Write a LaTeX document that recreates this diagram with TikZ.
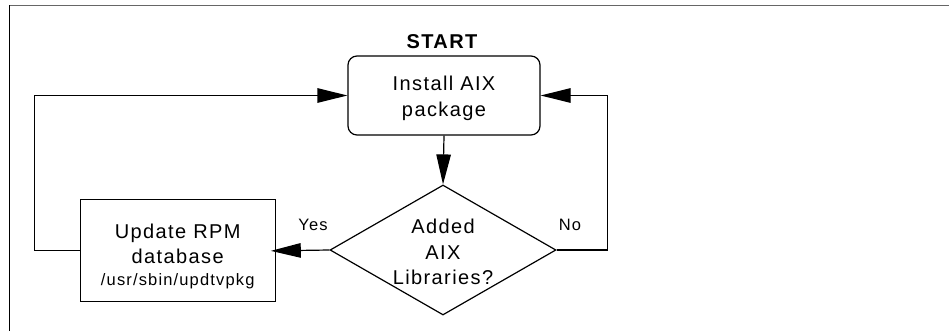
\documentclass[tikz,border=0pt]{standalone}
\usepackage{fontspec}
\setmainfont{Liberation Sans}[LetterSpace=7]
\usetikzlibrary{arrows.meta,shapes.geometric}
\tikzset{
  box/.style={draw=black,line width=1.2pt,inner sep=0pt},
  big/.style={font=\fontsize{20}{25.5}\selectfont,align=center,inner sep=0pt},
  small/.style={font=\fontsize{16.5}{20}\selectfont,inner sep=0pt},
  arr/.style={line width=1.2pt,-{Triangle[length=30pt,width=14.5pt]}},
}
\begin{document}
\begin{tikzpicture}[x=1pt,y=-1pt]
\useasboundingbox (0,0) rectangle (949,331);
% frame
\draw[line width=1.6pt,draw=black!60] (9.5,5.5) -- (949,5.5);
\draw[line width=1pt] (9.5,5.5) -- (9.5,331);
% nodes
\node[box,rounded corners=9pt,minimum width=192pt,minimum height=79pt] (inst) at (444,95.5) {};
\node[big] (insttxt) at (444,98.5) {Install AIX\\package};
\node[big,font=\fontsize{20}{25.5}\selectfont\bfseries] (start) at (442,41.7) {START};
\node[box,minimum width=195pt,minimum height=102pt] (upd) at (177.7,250.8) {};
\node[big] (updtxt) at (177.7,244) {Update RPM\\database};
\node[small] (path) at (177.7,281) {/usr/sbin/updtvpkg};
\node[box,diamond,aspect=1.74,minimum width=226pt,minimum height=130pt] (dec) at (443,250) {};
\node[big] (dectxt) at (443,252) {Added\\AIX\\Libraries?};
\node[small] (yes) at (313,225) {Yes};
\node[small] (no) at (570,225) {No};
% connector bends
\coordinate (lx) at (34.5,0);
\coordinate (rx) at (607.3,0);
% connectors
\draw[arr] (inst.south) -- (dec.north);
\draw[arr,shorten >=-5pt] (dec.west) -- (upd.east);
\draw[arr] (upd.west) -- (upd.west -| lx) -- (lx |- inst.west) -- (inst.west);
\draw[arr] (dec.east) -- (dec.east -| rx) -- (rx |- inst.east) -- (inst.east);
\end{tikzpicture}
\end{document}
